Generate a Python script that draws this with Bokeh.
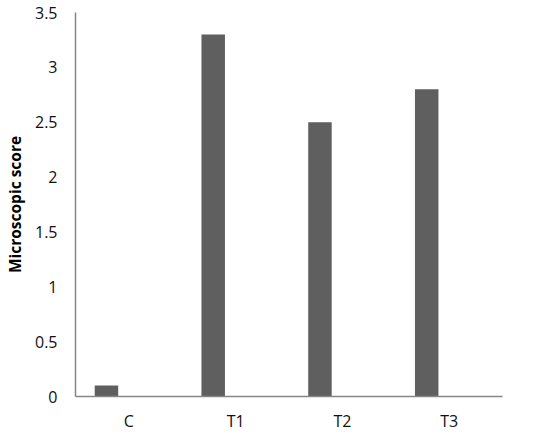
from bokeh.plotting import figure
from bokeh.models import ColumnDataSource, FactorRange, Range1d, FixedTicker
from bokeh.transform import dodge
from bokeh.embed import file_html
from bokeh.resources import INLINE

groups = ["C", "T1", "T2", "T3"]
scores = [0.1, 3.3, 2.5, 2.8]
y_ticks = [0, 0.5, 1, 1.5, 2, 2.5, 3, 3.5]
y_tick_labels = {0: "0", 0.5: "0.5", 1: "1", 1.5: "1.5", 2: "2", 2.5: "2.5", 3: "3", 3.5: "3.5"}

src = ColumnDataSource(dict(groups=groups, scores=scores))

p = figure(x_range=FactorRange(*groups, range_padding=0), y_range=Range1d(0, 3.5),
           width=533, height=437, output_backend="svg", toolbar_location=None,
           min_border_left=75, min_border_right=31, min_border_top=12, min_border_bottom=41)
p.vbar(x=dodge("groups", -0.21, range=p.x_range), top="scores", width=0.22,
       source=src, fill_color="#5f5f5f", line_color=None)

p.outline_line_color = None
p.xgrid.visible = False
p.ygrid.visible = False

font = "Open Sans"
for ax in (p.xaxis[0], p.yaxis[0]):
    ax.axis_line_color = "#868686"
    ax.axis_line_width = 1.5
    ax.major_tick_line_color = None
    ax.minor_tick_line_color = None
    ax.major_tick_out = 0
    ax.major_tick_in = 0
    ax.minor_tick_out = 0
    ax.minor_tick_in = 0
    ax.major_label_text_font = font
    ax.major_label_text_font_size = "16px"
    ax.major_label_text_color = "#111111"

p.yaxis.ticker = FixedTicker(ticks=y_ticks)
p.yaxis.major_label_overrides = y_tick_labels
p.yaxis.major_label_standoff = 18
p.xaxis.major_label_standoff = 13

p.yaxis.axis_label = "Microscopic score"
p.yaxis.axis_label_text_font = font
p.yaxis.axis_label_text_font_style = "bold"
p.yaxis.axis_label_text_font_size = "15.5px"
p.yaxis.axis_label_text_color = "#000000"
p.yaxis.axis_label_standoff = 6

open("out.html", "w").write(file_html(p, INLINE))
